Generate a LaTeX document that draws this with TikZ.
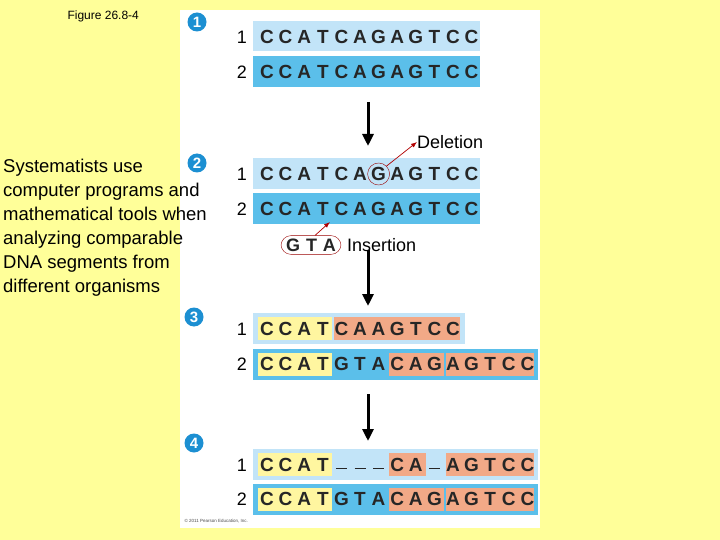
\documentclass[tikz,border=0pt]{standalone}
\usepackage{fontspec}
\setmainfont{Liberation Sans}
\usetikzlibrary{arrows.meta}
\definecolor{bgy}{HTML}{FFFF99}
\definecolor{lbc}{HTML}{C2E4F8}
\definecolor{dbc}{HTML}{5BBFEA}
\definecolor{hyc}{HTML}{FFF6A0}
\definecolor{hoc}{HTML}{F2A987}
\definecolor{stc}{HTML}{1C8FD2}
\begin{document}
\begin{tikzpicture}[x=1pt,y=-1pt,
  lb/.style={fill=lbc, draw=none},
  db/.style={fill=dbc, draw=none},
  hy/.style={fill=hyc, draw=none},
  ho/.style={fill=hoc, draw=none},
  let/.style={font=\fontsize{19}{19}\selectfont\bfseries, inner sep=0pt, text=black!85},
  num/.style={font=\fontsize{18}{18}\selectfont, inner sep=0pt},
  stepnum/.style={circle, fill=stc, text=white, font=\fontsize{15}{15}\selectfont\bfseries, inner sep=0pt, minimum size=19pt},
  bigarrow/.style={-{Triangle[length=12pt,width=11pt]}, line width=3pt, black},
  redarrow/.style={-{Latex[length=6pt]}, red!70!black, line width=0.7pt}]
\useasboundingbox (0,0) rectangle (720,540);
\fill[bgy] (0,0) rectangle (720,540);
\fill[white] (180,10) rectangle (540,528);
\node[font=\fontsize{12}{12}\selectfont, anchor=west] (fig) at (64,16) {Figure 26.8-4};
\node[font=\fontsize{4.5}{5}\selectfont, anchor=west, text=black!70] (copy) at (181,521) {\copyright{} 2011 Pearson Education, Inc.};
\node[anchor=north west, align=left, font=\fontsize{18.5}{24}\selectfont, inner sep=0pt] (txt) at (3,159)
 {Systematists use\\computer programs and\\mathematical tools when\\analyzing comparable\\DNA segments from\\different organisms};
\node[stepnum] (s1) at (197,22) {1};
\node[stepnum] (s2) at (197,163) {2};
\node[stepnum] (s3) at (194,317) {3};
\node[stepnum] (s4) at (194,443) {4};
\def\px{18.6}
\newcommand{\seqrow}[4]{%
  \node[num] (#2n) at (242,#1) {#4};
  \foreach \c [count=\i from 0] in {#3} {
    \node[let] (#2l\i) at (267+\i*\px,#1) {\c};
  }
}
\fill[lb] (253,21) rectangle (480,51);
\fill[db] (253,56) rectangle (480,87);
\fill[lb] (253,158) rectangle (480,189);
\fill[db] (253,193) rectangle (480,224);
\fill[lb] (253,313) rectangle (465,344);
\fill[db] (253,349) rectangle (538,380);
\fill[lb] (253,449) rectangle (538,480);
\fill[db] (253,484) rectangle (538,515);
\foreach \y in {317,353,453,488} {\fill[hy] (258,\y) rectangle (332,\y+23);}
\fill[ho] (334,317) rectangle (460,340);
\fill[ho] (389,353) rectangle (444,376);
\fill[ho] (446,353) rectangle (534,376);
\fill[ho] (389,488) rectangle (444,511);
\fill[ho] (446,488) rectangle (534,511);
\fill[ho] (389,453) rectangle (426,476);
\fill[ho] (446,453) rectangle (534,476);
\seqrow{37}{a}{C,C,A,T,C,A,G,A,G,T,C,C}{1}
\seqrow{72}{b}{C,C,A,T,C,A,G,A,G,T,C,C}{2}
\seqrow{174}{c}{C,C,A,T,C,A,G,A,G,T,C,C}{1}
\seqrow{209}{d}{C,C,A,T,C,A,G,A,G,T,C,C}{2}
\seqrow{329}{e}{C,C,A,T,C,A,A,G,T,C,C}{1}
\seqrow{364}{f}{C,C,A,T,G,T,A,C,A,G,A,G,T,C,C}{2}
\seqrow{465}{g}{C,C,A,T,{\rule[-8pt]{11pt}{0.8pt}},{\rule[-8pt]{11pt}{0.8pt}},{\rule[-8pt]{11pt}{0.8pt}},C,A,{\rule[-8pt]{11pt}{0.8pt}},A,G,T,C,C}{1}
\seqrow{499}{h}{C,C,A,T,G,T,A,C,A,G,A,G,T,C,C}{2}
\coordinate (a1s) at (368,102); \coordinate (a1e) at (368,146);
\coordinate (a2s) at (368,250); \coordinate (a2e) at (368,306);
\coordinate (a3s) at (368,394); \coordinate (a3e) at (368,441);
\draw[bigarrow] (a1s) -- (a1e);
\draw[bigarrow] (a2s) -- (a2e);
\draw[bigarrow] (a3s) -- (a3e);
\node[circle, draw=red!60!black, minimum size=22pt, inner sep=0pt] (delc) at (cl6) {};
\node[font=\fontsize{18}{18}\selectfont, anchor=west, inner sep=0pt] (del) at (417,142) {Deletion};
\draw[redarrow] (delc.north east) -- (del.west);
\node[draw=red!60!black, rounded corners=10pt, font=\fontsize{18}{18}\selectfont\bfseries, inner xsep=5pt, inner ysep=3pt, text=black!85] (gta) at (311,245) {G\,\,T\,\,A};
\node[font=\fontsize{18}{18}\selectfont, anchor=west, inner sep=0pt] (ins) at (347,245) {Insertion};
\coordinate (inspt) at (330,222);
\draw[redarrow] (gta.north) ++(4,0) -- (inspt);
\end{tikzpicture}
\end{document}
